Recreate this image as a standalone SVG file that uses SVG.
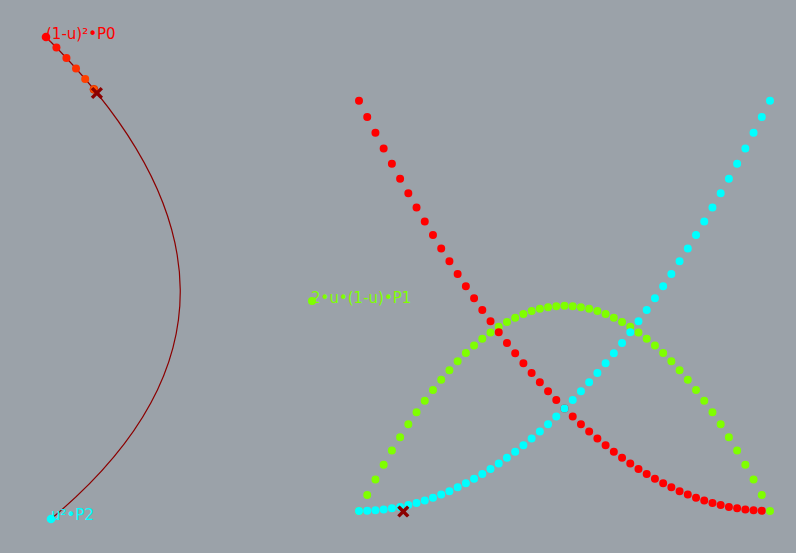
<svg xmlns="http://www.w3.org/2000/svg" width="796" height="553" viewBox="0 0 796 553">
<style>
.lbl{font-family:"DejaVu Sans","Liberation Sans",sans-serif;font-size:15px}
.dots{fill:none;stroke-width:8;stroke-linecap:round}
.mark{fill:none;stroke:#8b0000;stroke-width:3.4;stroke-linecap:square}
</style>
<rect width="796" height="553" fill="#9ba2a9"/>
<g id="connectors">
<path id="curve" d="M46 37 Q312 301 51 519" fill="none" stroke="#8b0000" stroke-width="1.2"/>
</g>
<g id="node-p0">
<text class="lbl" x="46" y="39" fill="#ff0000">(1-u)²•P0</text>
<circle cx="46" cy="37" r="4.3" fill="#ff0000"/>
</g>
<g id="node-p1">
<text class="lbl" x="311" y="303" fill="#7fff00">2•u•(1-u)•P1</text>
<circle cx="312" cy="301" r="4" fill="#7fff00"/>
</g>
<g id="node-p2">
<text class="lbl" x="51" y="520" fill="#00ffff">u²•P2</text>
<circle cx="51" cy="519" r="4.3" fill="#00ffff"/>
</g>
<g id="trace">
<circle cx="56.43" cy="47.54" r="4" fill="#ff1000"/>
<circle cx="66.43" cy="58.05" r="4" fill="#ff2000"/>
<circle cx="76.02" cy="68.51" r="4" fill="#ff3000"/>
<circle cx="85.19" cy="78.95" r="4" fill="#ff4000"/>
<circle cx="93.93" cy="89.34" r="4" fill="#ff5000" stroke="#e03000" stroke-width="0.8"/>
<path class="mark" d="M93.2 89.3l7.4 7.4M100.6 89.3l-7.4 7.4"/>
</g>
<g id="series-green">
<path class="dots" stroke="#7fff00" d="M359 511h0M367.22 494.92h0M375.44 479.49h0M383.66 464.72h0M391.88 450.6h0M400.1 437.15h0M408.32 424.34h0M416.54 412.2h0M424.76 400.71h0M432.98 389.88h0M441.2 379.7h0M449.42 370.18h0M457.64 361.32h0M465.86 353.12h0M474.08 345.57h0M482.3 338.67h0M490.52 332.44h0M498.74 326.86h0M506.96 321.93h0M515.18 317.67h0M523.4 314.06h0M531.62 311.1h0M539.84 308.8h0M548.06 307.16h0M556.28 306.18h0M564.5 305.85h0M572.72 306.18h0M580.94 307.16h0M589.16 308.8h0M597.38 311.1h0M605.6 314.06h0M613.82 317.67h0M622.04 321.93h0M630.26 326.86h0M638.48 332.44h0M646.7 338.67h0M654.92 345.57h0M663.14 353.12h0M671.36 361.32h0M679.58 370.18h0M687.8 379.7h0M696.02 389.88h0M704.24 400.71h0M712.46 412.2h0M720.68 424.34h0M728.9 437.15h0M737.12 450.6h0M745.34 464.72h0M753.56 479.49h0M761.78 494.92h0M770 511h0"/>
</g>
<g id="series-red">
<path class="dots" stroke="#ff0000" d="M359 100.7h0M367.22 116.95h0M375.44 132.87h0M383.66 148.46h0M391.88 163.72h0M400.1 178.66h0M408.32 193.26h0M416.54 207.54h0M424.76 221.49h0M432.98 235.11h0M441.2 248.41h0M449.42 261.37h0M457.64 274.01h0M465.86 286.32h0M474.08 298.3h0M482.3 309.95h0M490.52 321.28h0M498.74 332.27h0M506.96 342.94h0M515.18 353.28h0M523.4 363.29h0M531.62 372.98h0M539.84 382.33h0M548.06 391.36h0M556.28 400.06h0M564.5 408.43h0M572.72 416.47h0M580.94 424.18h0M589.16 431.57h0M597.38 438.62h0M605.6 445.35h0M613.82 451.75h0M622.04 457.83h0M630.26 463.57h0M638.48 468.99h0M646.7 474.07h0M654.92 478.83h0M663.14 483.26h0M671.36 487.37h0M679.58 491.14h0M687.8 494.59h0M696.02 497.71h0M704.24 500.5h0M712.46 502.96h0M720.68 505.09h0M728.9 506.9h0M737.12 508.37h0M745.34 509.52h0M753.56 510.34h0M761.78 510.84h0"/>
</g>
<g id="series-cyan">
<path class="dots" stroke="#00ffff" d="M359 511h0M367.22 510.84h0M375.44 510.34h0M383.66 509.52h0M391.88 508.37h0M400.1 506.9h0M408.32 505.09h0M416.54 502.96h0M424.76 500.5h0M432.98 497.71h0M441.2 494.59h0M449.42 491.14h0M457.64 487.37h0M465.86 483.26h0M474.08 478.83h0M482.3 474.07h0M490.52 468.99h0M498.74 463.57h0M506.96 457.83h0M515.18 451.75h0M523.4 445.35h0M531.62 438.62h0M539.84 431.57h0M548.06 424.18h0M556.28 416.47h0M564.5 408.43h0M572.72 400.06h0M580.94 391.36h0M589.16 382.33h0M597.38 372.98h0M605.6 363.29h0M613.82 353.28h0M622.04 342.94h0M630.26 332.27h0M638.48 321.28h0M646.7 309.95h0M654.92 298.3h0M663.14 286.32h0M671.36 274.01h0M679.58 261.37h0M687.8 248.41h0M696.02 235.11h0M704.24 221.49h0M712.46 207.54h0M720.68 193.26h0M728.9 178.66h0M737.12 163.72h0M745.34 148.46h0M753.56 132.87h0M761.78 116.95h0M770 100.7h0"/>
<path class="mark" d="M399.6 507.8l7.4 7.4M407 507.8l-7.4 7.4"/>
</g>
</svg>
